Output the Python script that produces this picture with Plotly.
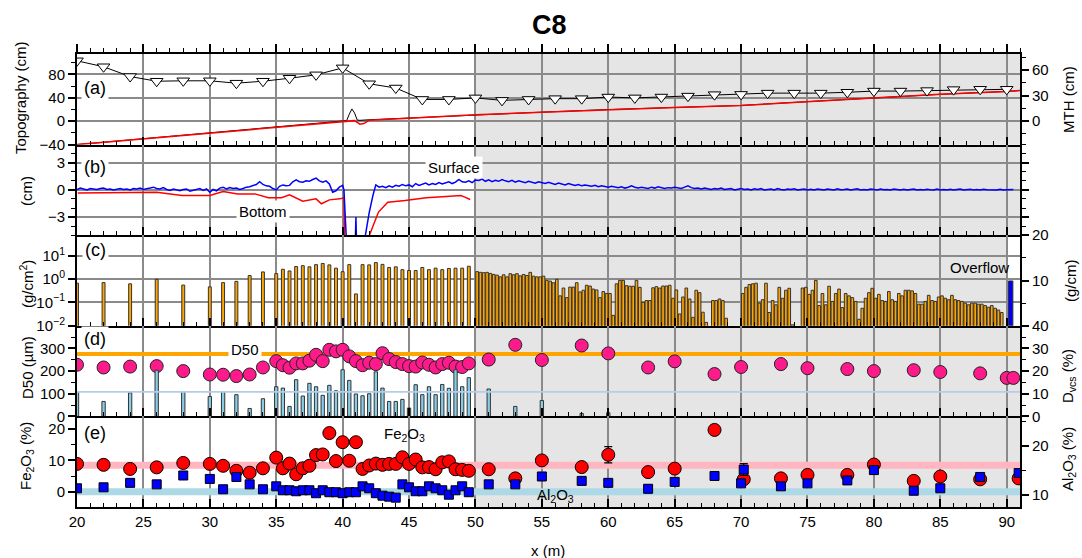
import numpy as np
import plotly.graph_objects as go

FONT = "Liberation Sans, Arial, Helvetica, sans-serif"
GRID = "#8a8a8a"
SHADE = "#e5e5e5"

# ---------------- data ----------------
# (a) topography and mean transport height
mth_x = [20, 22, 24, 26, 28, 30, 32, 34, 36, 38, 40, 42, 44, 46, 48, 50, 52, 54,
         56, 58, 60, 62, 64, 66, 68, 70, 72, 74, 76, 78, 80, 82, 84, 86, 88, 90]
mth_cm = [71, 64, 52.5, 47, 47.5, 47.5, 44.7, 47, 50.5, 54.5, 62.7, 44, 39, 25.6, 25.6, 27.4, 24.5, 25.6,
          26.5, 26.5, 28.4, 27.4, 28.4, 29.5, 31.2, 31.5, 33, 33, 33, 34, 35.4, 35.4, 36, 37.1, 37.5, 37.5]
topo_x = [20, 25, 30, 35, 40, 40.3, 40.5, 40.7, 40.9, 41.1, 41.3, 41.6, 42, 45, 50, 55, 60, 65, 70, 75, 80, 85, 90, 91]
topo_bottom = [-40, -30, -20, -10, 0, 0.6, 1, 1.4, 1, -2, -5, -4, 1.5, 5, 11, 15.5, 20, 23.5, 27, 33.5, 40, 46, 51, 52.5]
topo_surface = [-40, -30, -20, -10, 0, 1, 12, 21, 14, 2, 1.5, 2, 2.5, 5.5, 11, 15.5, 20, 23.5, 27, 33.5, 40, 46, 51, 52.5]

# (b) surface / bottom elevation change
surf_x_a = list(np.arange(20.0, 40.01, 0.25))
surf_a = [0.05, 0.2, 0.1, 0.0, 0.15, 0.1, 0.05, 0.15, 0.2, 0.05, 0.1, 0.0, 0.1, 0.15, 0.05, 0.1,
          0.0, 0.15, 0.1, 0.2, 0.05, 0.1, 0.2, 0.3, 0.15, 0.1, 0.25, 0.05, -0.05, 0.1, 0.0, -0.1,
          0.05, 0.1, -0.15, -0.05, 0.1, 0.15, -0.05, 0.1, -0.25, 0.05, -0.1, 0.2, 0.3, 0.1, 0.25, 0.15,
          0.2, 0.05, 0.15, 0.3, 0.35, 0.5, 0.6, 0.9, 0.6, 0.45, 0.4, 0.15, 0.0, 0.4, 0.55, 0.45,
          0.5, 0.9, 1.1, 0.9, 0.85, 1.0, 0.95, 1.15, 1.3, 1.0, 0.85, 1.0, 0.65, -0.25, -0.1, 0.3, 0.5]
surf_x_gap = [40.1, 40.2, 40.3, 40.95, 41.0, 41.05, 41.6, 42.0, 42.3]
surf_gap = [0.0, -3.0, -6.0, -6.0, -3.0, -6.0, -6.0, -2.5, -0.5]
surf_x_b = list(np.arange(42.5, 50.01, 0.25))
surf_b = [0.55, 0.3, 0.4, 0.25, 0.45, 0.3, 0.5, 0.4, 0.6, 0.45, 0.55, 0.35, 0.7, 0.5, 0.6, 0.75,
          0.55, 0.7, 0.6, 0.8, 0.65, 0.75, 0.9, 0.7, 0.85, 1.15, 0.9, 0.85, 1.0, 0.8, 1.1]
surf_x_c = list(np.arange(50.25, 90.51, 0.25))
surf_c = [1.05, 1.2, 0.95, 1.1, 0.9, 1.05, 0.95, 1.15, 1.0, 0.9, 1.05, 0.85, 1.0, 0.9, 0.8, 0.95, 0.85, 0.75, 0.9, 0.8,
          0.7, 0.85, 0.7, 0.6, 0.75, 0.65, 0.55, 0.7, 0.6, 0.5, 0.6, 0.45, 0.55, 0.5, 0.4, 0.5, 0.35, 0.45, 0.4, 0.3,
          0.4, 0.3, 0.25, 0.35, 0.2, 0.3, 0.45, 0.3, 0.2, 0.3, 0.25, 0.15, 0.3, 0.2, 0.35, 0.25, 0.15, 0.25, 0.2, 0.3,
          0.2, 0.15, 0.3, 0.45, 0.25, 0.15, 0.2, 0.1, 0.2, 0.15, 0.05, 0.15, 0.1, 0.2, 0.05, 0.1, 0.15, 0.0, 0.1, 0.15,
          0.05, 0.1, 0.0, 0.12, 0.05, 0.15, 0.0, 0.08, 0.1, 0.0, 0.15, 0.05, 0.0, 0.1, 0.05, 0.12, 0.0, 0.05, 0.1, 0.0,
          0.08, 0.0, 0.1, 0.05, -0.02, 0.1, 0.05, 0.0, 0.12, 0.02, 0.05, 0.1, 0.0, 0.05, 0.12, 0.0, 0.05, 0.0, 0.1, 0.05,
          0.0, 0.1, 0.02, 0.05, 0.0, 0.1, 0.05, 0.0, 0.08, 0.0, 0.05, 0.1, 0.0, 0.05, 0.0, 0.08, 0.02, 0.0, 0.1, 0.0,
          0.05, 0.0, 0.08, 0.0, 0.05, 0.1, 0.0, 0.03, 0.08, 0.0, 0.05, 0.0, 0.08, 0.02, 0.0, 0.05, 0.0, 0.06, 0.0, 0.03,
          0.0, 0.04]
bot_x = [20.06, 26.0, 27.9, 30.0, 31.0, 32.1, 33.4, 34.4, 35.4, 36.0, 37.0, 38.0, 38.4, 39.0, 39.8, 40.1,
         40.15, 41.75, 42.7, 43.4, 44.7, 46.3, 47.8, 48.9, 49.2, 49.6]
bot_cm = [-0.33, -0.26, -0.62, -0.62, -0.18, -0.44, -0.44, -0.87, -0.87, -0.54, -1.25, -0.99, -1.53, -1.1, -0.99, -0.87,
          -6, -6, -2.45, -1.35, -1.17, -0.87, -0.73, -0.62, -0.8, -1.06]

# (c) transport rate (g/cm^2) and overflow (g/cm)
q_x_left = [20, 22, 24, 26, 28, 30, 31, 32, 33, 34] + list(np.arange(35.0, 49.51, 0.5))
q_left = [0.66, 0.7, 0.62, 0.97, 0.55, 0.46, 0.7, 0.79, 1.4, 2.0,
          1.7, 2.6, 2.2, 3.4, 3.7, 3.3, 4.1, 4.6, 4.0, 2.9,
          2.05, 4.1, 0.23, 4.1, 4.0, 5.0, 4.2, 3.1, 3.3, 2.5,
          2.3, 2.3, 3.1, 2.5, 2.9, 2.5, 2.8, 2.9, 2.9, 3.5]
q_x_right = list(np.arange(50.125, 89.9, 0.25))
q_right = [2.06, 1.92, 1.86, 1.92, 1.73, 1.56, 1.46, 1.23, 1.51, 1.23, 1.68, 1.51, 1.68, 1.36, 1.56, 1.41, 1.92, 1.32, 1.23, 1.23,
           1.32, 0.87, 0.81, 0.69, 0.97, 0.19, 0.41, 0.16, 0.45, 0.45, 0.69, 0.28, 0.33, 0.54, 0.50, 0.37, 0.34, 0.16, 0.29, 0.24,
           0.24, 0.028, 0.62, 0.87, 0.87, 0.52, 0.49, 0.49, 0.87, 0.44, 0.10, 0.12, 0.12, 0.42, 0.47, 0.41, 0.50, 0.50, 0.54, 0.15,
           0.34, 0.032, 0.17, 0.41, 0.14, 0.023, 0.33, 0.26, 0.038, 0.014, None, 0.12, 0.12, 0.14, 0.12, 0.021, None, None, None, None,
           0.24, 0.44, 0.58, 0.62, 0.66, 0.093, 0.13, 0.66, 0.037, 0.12, 0.079, 0.44, 0.15, 0.33, 0.40, 0.011, None, None, 0.41, 0.44,
           0.22, 0.33, 0.87, 0.073, 0.24, 0.079, 0.49, 0.11, 0.24, 0.37, 0.060, 0.24, 0.19, 0.16, 0.11, 0.019, 0.056, 0.15, 0.26, 0.40,
           0.15, 0.22, 0.12, 0.11, 0.29, 0.13, 0.11, 0.24, 0.19, 0.33, 0.33, 0.31, 0.24, 0.084, 0.084, 0.11, 0.20, 0.12, 0.11, 0.17,
           0.19, 0.15, 0.13, 0.20, 0.13, 0.12, 0.11, 0.093, 0.079, 0.093, 0.093, 0.084, 0.084, 0.073, 0.062, 0.073, 0.056, 0.047, 0.037, None]
overflow_x = [90.3]
overflow_gcm = [9.9]

# (d) grain size
d50_x = [20, 22, 24, 26, 28, 30, 31, 32, 33, 34] + list(np.arange(35.0, 49.51, 0.5)) + \
        [51, 53, 55, 58, 60, 63, 65, 68, 70, 73, 75, 78, 80, 83, 85, 88, 90, 90.5]
d50_um = [228, 216, 220, 222, 200, 185, 184, 178, 185, 216,
          244, 226, 215, 234, 234, 246, 272, 244, 294, 287,
          294, 265, 244, 226, 237, 231, 279, 253, 240, 231,
          222, 220, 238, 228, 216, 231, 237, 220, 218, 234,
          251, 316, 249, 313, 278, 216, 243, 187, 218, 231, 213, 209, 200, 204, 196, 190, 170, 170]
dvcs_x = [20, 22, 24, 26, 28, 30, 31, 32, 33, 34] + list(np.arange(35.0, 49.51, 0.5)) + [51, 53, 55, 58, 60]
dvcs_pct = [11, 6.6, 10.4, 20.4, 11, 8.8, 11, 9.6, 3.5, 7.8,
            13.1, 12.5, 4.4, 16.2, 9.0, 14.6, 13.1, 9.3, 13.7, 11.3,
            20.6, 15.9, 9.9, 9.1, 10.0, 19.7, 12.5, 6.6, 6.6, 7.5,
            3.7, 14.0, 9.6, 13.1, 9.6, 14.1, 12.4, 20.6, 13.1, 17.1,
            12.1, 4.4, 7.0, 1.3, 1.6]
D50_REF = 276
DVCS_REF = 10.8

# (e) geochemistry
fe_x = [20, 22, 24, 26, 28, 30, 31, 32, 33, 34] + list(np.arange(35.0, 49.51, 0.5)) + \
       [51, 53, 55, 58, 60, 63, 65, 68, 70.2, 73, 75, 78, 80, 83, 85, 88, 90.9]
fe_pct = [8.9, 8.6, 7.3, 7.8, 9.2, 8.9, 8.3, 6.7, 6.1, 7.5,
          10.9, 7.5, 9.0, 5.6, 7.5, 8.3, 11.7, 11.9, 18.7, 9.8,
          15.8, 9.9, 15.8, 7.3, 8.4, 9.0, 8.6, 8.9, 8.9, 11.0,
          8.9, 10.3, 7.8, 7.9, 7.2, 9.4, 9.7, 7.2, 7.0, 6.7,
          7.2, 4.3, 10.0, 7.9, 11.8, 6.3, 7.4, 19.7, 4.0, 4.3, 5.4, 5.4, 8.7, 3.5, 4.9, 4.0, 4.3]
fe_err = [0.6, 0.5, 0.5, 0.6, 0.5, 0.8, 0.6, 0.6, 0.5, 0.6,
          0.8, 0.6, 0.6, 0.6, 0.5, 0.6, 0.6, 0.6, 0.8, 0.6,
          0.6, 1.0, 0.6, 0.5, 0.5, 0.6, 0.5, 0.6, 0.6, 0.6,
          0.6, 0.6, 0.5, 0.5, 0.6, 0.6, 0.6, 0.5, 0.5, 0.5,
          0.6, 0.5, 0.6, 0.6, 2.6, 0.5, 0.6, 0.9, 0.6, 0.5, 0.6, 0.6, 0.6, 0.5, 0.6, 0.5, 0.5]
al_x = [20, 22, 24, 26, 28, 30, 31, 32, 33, 34] + list(np.arange(35.0, 49.51, 0.5)) + \
       [51, 53, 55, 58, 60, 63, 65, 68, 70, 70.2, 73, 75, 78, 80, 83, 85, 88, 90.9]
al_pct = [11.4, 11.6, 12.5, 12.2, 14.0, 13.3, 11.2, 13.7, 12.2, 11.2,
          11.8, 11.0, 11.0, 10.8, 11.0, 11.0, 10.4, 11.0, 10.6, 10.6,
          10.4, 10.6, 10.6, 11.8, 11.4, 10.4, 9.9, 9.7, 9.5, 12.2,
          11.6, 10.8, 10.8, 11.8, 11.4, 11.0, 10.1, 11.0, 11.8, 10.6,
          12.2, 12.2, 13.8, 12.9, 12.5, 11.3, 12.7, 13.9, 12.4, 15.2, 11.8, 12.4, 13.0, 15.1, 10.9, 11.4, 13.7, 14.5]
al_err = [0.3, 0.3, 0.6, 0.3, 0.3, 0.3, 0.4, 0.3, 0.3, 0.5,
          0.5, 0.3, 0.3, 0.3, 0.3, 0.3, 0.5, 0.6, 0.3, 0.3,
          0.4, 0.3, 0.3, 0.3, 0.3, 0.3, 0.3, 0.3, 0.3, 0.5,
          0.4, 0.3, 0.3, 0.5, 0.3, 0.3, 0.3, 0.3, 0.4, 0.3,
          0.3, 0.3, 0.3, 0.3, 0.3, 0.8, 0.3, 0.6, 0.3, 1.2, 0.7, 0.5, 0.4, 0.3, 0.3, 0.4, 0.3, 0.3]
FE_REF = 8.5
AL_REF = 10.7

SHADE_X0 = 50
OVERFLOW_SPLIT = 90
X_RANGE = [20, 91]

# ---------------- figure ----------------
fig = go.Figure()

# (a)
fig.add_trace(go.Scatter(x=topo_x, y=topo_surface, mode="lines", line=dict(color="black", width=1),
                         xaxis="x", yaxis="y"))
fig.add_trace(go.Scatter(x=topo_x, y=topo_bottom, mode="lines", line=dict(color="#ff0000", width=1.5),
                         xaxis="x", yaxis="y"))
fig.add_trace(go.Scatter(x=mth_x, y=mth_cm, mode="lines+markers", line=dict(color="black", width=1),
                         marker=dict(symbol="triangle-down", size=11, color="white",
                                     line=dict(color="black", width=1)),
                         xaxis="x", yaxis="y2"))
fig.add_trace(go.Scatter(x=[None], y=[None], xaxis="x6", yaxis="y"))

# (b)
fig.add_trace(go.Scatter(x=bot_x, y=bot_cm, mode="lines", line=dict(color="#ff0000", width=1.5),
                         xaxis="x2", yaxis="y3"))
fig.add_trace(go.Scatter(x=surf_x_a + surf_x_gap + surf_x_b + surf_x_c,
                         y=surf_a + surf_gap + surf_b + surf_c, mode="lines",
                         line=dict(color="#0000ff", width=1.5), xaxis="x2", yaxis="y3"))

# (c)
bar_line = dict(color="#333333", width=1)
fig.add_trace(go.Bar(x=q_x_left, y=q_left, width=0.22, marker=dict(color="#ffa500", line=bar_line),
                     xaxis="x3", yaxis="y4"))
fig.add_trace(go.Bar(x=q_x_right, y=q_right, width=0.2, marker=dict(color="#ffa500", line=bar_line),
                     xaxis="x3", yaxis="y4"))
fig.add_trace(go.Bar(x=overflow_x, y=overflow_gcm, width=0.33, marker=dict(color="#0000ff", line=bar_line),
                     xaxis="x3", yaxis="y5"))

# (d)
fig.add_trace(go.Scatter(x=X_RANGE, y=[DVCS_REF, DVCS_REF], mode="lines",
                         line=dict(color="#b5cde8", width=1.8), xaxis="x4", yaxis="y7"))
fig.add_trace(go.Scatter(x=X_RANGE, y=[D50_REF, D50_REF], mode="lines",
                         line=dict(color="#ffa500", width=4), xaxis="x4", yaxis="y6"))
fig.add_trace(go.Bar(x=dvcs_x, y=dvcs_pct, width=0.25, marker=dict(color="#87cde6", line=bar_line),
                     xaxis="x4", yaxis="y7"))
fig.add_trace(go.Scatter(x=d50_x, y=d50_um, mode="markers",
                         marker=dict(symbol="circle", size=13, color="#ff1a8c",
                                     line=dict(color="#222222", width=1)),
                         xaxis="x4", yaxis="y6"))

# (e)
fig.add_trace(go.Scatter(x=X_RANGE, y=[FE_REF, FE_REF], mode="lines",
                         line=dict(color="#ffb6c1", width=7), xaxis="x5", yaxis="y8"))
fig.add_trace(go.Scatter(x=X_RANGE, y=[AL_REF, AL_REF], mode="lines",
                         line=dict(color="#add8e6", width=7), xaxis="x5", yaxis="y9"))
fig.add_trace(go.Scatter(x=fe_x, y=fe_pct, mode="markers",
                         error_y=dict(type="data", array=fe_err, color="black", thickness=1.2, width=4),
                         marker=dict(symbol="circle", size=13, color="#ff0000", line=dict(color="black", width=1)),
                         xaxis="x5", yaxis="y8"))
fig.add_trace(go.Scatter(x=al_x, y=al_pct, mode="markers",
                         error_y=dict(type="data", array=al_err, color="black", thickness=1.2, width=4),
                         marker=dict(symbol="square", size=9, color="#0000ff", line=dict(color="black", width=1)),
                         xaxis="x5", yaxis="y9"))


def xax(anchor, labels=False):
    return dict(anchor=anchor, domain=[0, 1], range=X_RANGE, showgrid=True, gridcolor=GRID, gridwidth=1.5,
                ticks="inside", ticklen=8, tickwidth=1.5, tickcolor="black", dtick=5, tick0=0,
                minor=dict(dtick=1, ticks="inside", ticklen=4, tickcolor="black", tickwidth=1, showgrid=False),
                showline=True, linecolor="black", linewidth=2, zeroline=False,
                showticklabels=labels, tickfont=dict(size=15))


def yax(domain, rng, tickvals, minor_dtick, grid=False, side="left", overlay=None, anchor=None, **kw):
    d = dict(range=rng, tickvals=tickvals, ticks="outside", ticklen=7, tickwidth=1.5, tickcolor="black",
             showline=True, linecolor="black", linewidth=2, zeroline=False, showgrid=grid,
             gridcolor=GRID, gridwidth=1.5, side=side, tickfont=dict(size=15))
    if minor_dtick:
        d["minor"] = dict(dtick=minor_dtick, ticks="outside", ticklen=4, tickcolor="black", tickwidth=1,
                          showgrid=False)
    if overlay:
        d["overlaying"] = overlay
    else:
        d["domain"] = domain
    if anchor:
        d["anchor"] = anchor
    d.update(kw)
    return d


layout = dict(
    width=1082, height=558, margin=dict(l=77, r=62, t=54, b=51, pad=0),
    plot_bgcolor="white", paper_bgcolor="white", showlegend=False, barmode="overlay",
    font=dict(family=FONT, size=15, color="black"),
    xaxis=xax("y"), xaxis2=xax("y3"), xaxis3=xax("y4"), xaxis4=xax("y6"), xaxis5=xax("y8", labels=True),
    xaxis6=dict(overlaying="x", anchor="y", side="top", range=X_RANGE, dtick=5, tick0=0, ticks="outside",
                ticklen=8, tickwidth=1.5, tickcolor="black", showticklabels=False, showgrid=False,
                showline=True, linecolor="black", linewidth=2, zeroline=False,
                minor=dict(dtick=1, ticks="outside", ticklen=4, tickcolor="black", tickwidth=1, showgrid=False)),
    yaxis=yax([0.8, 1.0], [-40, 115], [-40, 0, 40, 80], 20, grid=True, anchor="x",
              ticktext=["−40", "0", "40", "80"]),
    yaxis2=yax(None, [-27.5, 79], [0, 30, 60], 15, side="right", overlay="y", anchor="x"),
    yaxis3=yax([0.6, 0.8], [-5, 5], [-3, 0, 3], 1, grid=True, anchor="x2", mirror="ticks",
               ticktext=["−3", "0", "3"]),
    yaxis4=yax([0.4, 0.6], [-2, 1.87], [0.01, 0.1, 1, 10], None, grid=True, anchor="x3", type="log",
               ticktext=["10<sup>−2</sup>", "10<sup>−1</sup>", "10<sup>0</sup>", "10<sup>1</sup>"]),
    yaxis5=yax(None, [0, 20], [0, 10, 20], 5, side="right", overlay="y4", anchor="x3",
               ticktext=["", "10", "20"]),
    yaxis6=yax([0.2, 0.4], [0, 400], [0, 100, 200, 300], 50, anchor="x4"),
    yaxis7=yax(None, [0, 40], [0, 10, 20, 30, 40], 5, side="right", overlay="y6", anchor="x4"),
    yaxis8=yax([0.0, 0.2], [-4.8, 24], [0, 10, 20], 5, anchor="x5"),
    yaxis9=yax(None, [7.6, 26], [10, 20], 5, side="right", overlay="y8", anchor="x5"),
)
fig.update_layout(**layout)

# shaded region x >= 50
shapes = []
for yref, x1 in [("y", X_RANGE[1]), ("y3", X_RANGE[1]), ("y4", OVERFLOW_SPLIT), ("y6", X_RANGE[1]), ("y8", X_RANGE[1])]:
    xref = {"y": "x", "y3": "x2", "y4": "x3", "y6": "x4", "y8": "x5"}[yref]
    shapes.append(dict(type="rect", xref=xref, yref=yref + " domain", x0=SHADE_X0, x1=x1, y0=0, y1=1,
                       fillcolor=SHADE, line=dict(width=0), layer="below"))
fig.update_layout(shapes=shapes)

# annotations (positions in paper coords of plot area)
L, R, T, B = 77, 1020, 54, 507


def px(xp):
    return (xp - L) / (R - L)


def py(yp):
    return (B - yp) / (B - T)


ann = []


def txt(text, xp, yp, size=15, angle=0, box=False, **kw):
    a = dict(text=text, x=px(xp), y=py(yp), xref="paper", yref="paper", showarrow=False,
             xanchor="center", yanchor="middle", textangle=angle, font=dict(size=size, family=FONT, color="black"))
    if box:
        a.update(bgcolor="white", borderpad=2)
    a.update(kw)
    ann.append(a)


txt("<b>C8</b>", 549, 25, size=27)
txt("x (m)", 548, 550)
txt("Topography (cm)", 20, 98, angle=-90)
txt("MTH (cm)", 1069, 100, angle=-90)
txt("(cm)", 26, 191, angle=-90)
txt("(g/cm<sup>2</sup>)", 26, 284, angle=-90)
txt("(g/cm)", 1070, 281, angle=-90)
txt("D50 (µm)", 27, 368, angle=-90)
txt("D<sub>vcs</sub> (%)", 1068, 376, angle=-90)
txt("Fe<sub>2</sub>O<sub>3</sub> (%)", 26, 456, angle=-90)
txt("Al<sub>2</sub>O<sub>3</sub> (%)", 1068, 459, angle=-90)
txt("(a)", 95, 88, size=18, box=True)
txt("(b)", 95, 167, size=18, box=True)
txt("(c)", 95, 250, size=18, box=True)
txt("(d)", 95, 339, size=18, box=True)
txt("(e)", 95, 433, size=18, box=True)
txt("Surface", 454, 167, box=True)
txt("Bottom", 263, 211, box=True)
txt("D50", 245, 349, box=True)
txt("Fe<sub>2</sub>O<sub>3</sub>", 404, 434)
txt("Al<sub>2</sub>O<sub>3</sub>", 555, 495)
txt("Overflow", 979, 267)
fig.update_layout(annotations=ann)

fig.write_html("out.html")
